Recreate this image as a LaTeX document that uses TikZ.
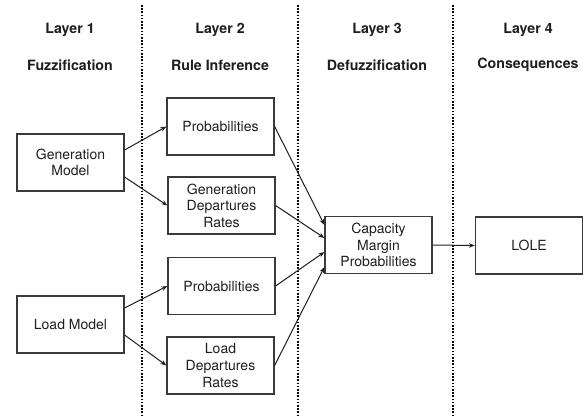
\documentclass[tikz,border=0pt]{standalone}
\usepackage{fontspec}
\setmainfont{TeX Gyre Heros}
\usetikzlibrary{arrows.meta}
\definecolor{ink}{HTML}{1E1E1E}
\definecolor{edge}{HTML}{3A3A3A}
\begin{document}
\begin{tikzpicture}[x=1pt,y=-1pt,
  box/.style={draw=edge,line width=1.2pt,minimum width=107pt,minimum height=57pt,inner sep=2pt,align=center,text=ink,font=\fontsize{14}{16.6}\selectfont},
  title/.style={text=ink,font=\fontsize{14.2}{16}\selectfont\bfseries},
  sep/.style={line width=1.6pt,dash pattern=on 1.6pt off 1.6pt,black},
  conn/.style={draw=ink,line width=1pt,-{Stealth[length=6pt,width=4.5pt]}}]
\useasboundingbox (0,0) rectangle (587,416);
% separators
\coordinate (s1t) at (142,5); \coordinate (s1b) at (142,416);
\coordinate (s2t) at (298,5); \coordinate (s2b) at (298,416);
\coordinate (s3t) at (453,5); \coordinate (s3b) at (453,416);
\draw[sep] (s1t) -- (s1b);
\draw[sep] (s2t) -- (s2b);
\draw[sep] (s3t) -- (s3b);
% titles
\node[title] (l1) at (70,30) {Layer 1};
\node[title] (f1) at (70,65) {Fuzzification};
\node[title] (l2) at (220,30) {Layer 2};
\node[title] (f2) at (220,65) {Rule Inference};
\node[title] (l3) at (377,30) {Layer 3};
\node[title] (f3) at (377,65) {Defuzzification};
\node[title] (l4) at (528,30) {Layer 4};
\node[title] (f4) at (528,65) {Consequences};
% boxes
\node[box] (gen) at (70.5,162.5) {Generation\\Model};
\node[box] (prob1) at (220.5,126.5) {Probabilities};
\node[box] (gdr) at (221.5,205.5) {Generation\\Departures\\Rates};
\node[box] (prob2) at (221.5,286) {Probabilities};
\node[box] (load) at (70.5,324.5) {Load Model};
\node[box] (ldr) at (220.5,365.5) {Load\\Departures\\Rates};
\node[box] (cap) at (378.5,245) {Capacity\\Margin\\Probabilities};
\node[box] (lole) at (529,245.5) {LOLE};
% connectors
\draw[conn] ([yshift=12.5pt]gen.east) -- (prob1.west);
\draw[conn] ([yshift=-14.5pt]gen.east) -- (gdr.west);
\draw[conn] ([yshift=16.5pt]load.east) -- (prob2.west);
\draw[conn] ([yshift=-10.5pt]load.east) -- (ldr.west);
\draw[conn] (prob1.east) -- ([yshift=20pt]cap.west);
\draw[conn] (gdr.east) -- ([yshift=7pt]cap.west);
\draw[conn] (prob2.east) -- ([yshift=-7pt]cap.west);
\draw[conn] (ldr.east) -- ([yshift=-22pt]cap.west);
\draw[conn] (cap.east) -- (lole.west);
\end{tikzpicture}
\end{document}
